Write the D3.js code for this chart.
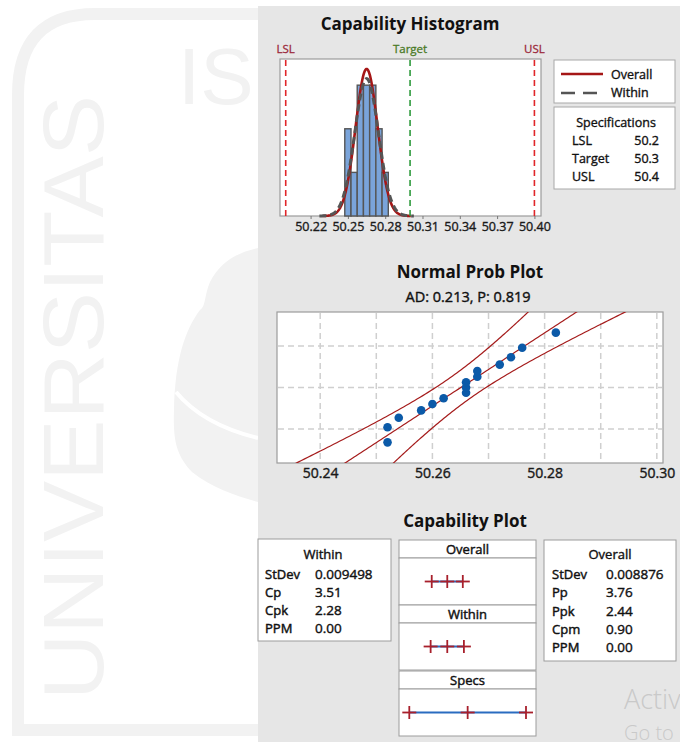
<!DOCTYPE html>
<html><head><meta charset="utf-8">
<script src="https://cdn.jsdelivr.net/npm/d3@7"></script>
<style>
html,body{margin:0;padding:0;background:#fff;}
svg text{font-family:"Open Sans","Noto Sans",sans-serif;}
</style></head>
<body><svg id="c" width="680" height="742"></svg>
<script>
// ---------------- data ----------------
const observations = [50.252, 50.252, 50.254, 50.258, 50.260, 50.262, 50.266, 50.266, 50.266,
                      50.268, 50.268, 50.272, 50.274, 50.276, 50.282];
const binEdges = [50.2475, 50.2525, 50.2575, 50.2625, 50.2675, 50.2725, 50.2775, 50.2825];
const histTicks = [50.22, 50.25, 50.28, 50.31, 50.34, 50.37, 50.40];
const probTicks = [50.24, 50.26, 50.28, 50.30];
const probGridX = [50.24, 50.25, 50.26, 50.27, 50.28, 50.29, 50.30];
const probGridPct = [0.10, 0.50, 0.90];
const specNames = ["LSL", "Target", "USL"];
const specValues = [50.2, 50.3, 50.4];
const withinSD = 0.009498;
const overallSD = 0.008876;
const withinLabels = ["StDev", "Cp", "Cpk", "PPM"];
const withinValues = ["0.009498", "3.51", "2.28", "0.00"];
const overallLabels = ["StDev", "Pp", "Ppk", "Cpm", "PPM"];
const overallValues = ["0.008876", "3.76", "2.44", "0.90", "0.00"];
const adText = "AD: 0.213, P: 0.819";

// ---------------- helpers ----------------
function invNorm(p){ // Acklam
  const a=[-3.969683028665376e+01,2.209460984245205e+02,-2.759285104469687e+02,1.383577518672690e+02,-3.066479806614716e+01,2.506628277459239e+00];
  const b=[-5.447609879822406e+01,1.615858368580409e+02,-1.556989798598866e+02,6.680131188771972e+01,-1.328068155288572e+01];
  const c=[-7.784894002430293e-03,-3.223964580411365e-01,-2.400758277161838e+00,-2.549732539343734e+00,4.374664141464968e+00,2.938163982698783e+00];
  const d=[7.784695709041462e-03,3.224671290700398e-01,2.445134137142996e+00,3.754408661907416e+00];
  const pl=0.02425;let q,r;
  if(p<pl){q=Math.sqrt(-2*Math.log(p));return (((((c[0]*q+c[1])*q+c[2])*q+c[3])*q+c[4])*q+c[5])/((((d[0]*q+d[1])*q+d[2])*q+d[3])*q+1);}
  if(p>1-pl){q=Math.sqrt(-2*Math.log(1-p));return -(((((c[0]*q+c[1])*q+c[2])*q+c[3])*q+c[4])*q+c[5])/((((d[0]*q+d[1])*q+d[2])*q+d[3])*q+1);}
  q=p-0.5;r=q*q;return (((((a[0]*r+a[1])*r+a[2])*r+a[3])*r+a[4])*r+a[5])*q/(((((b[0]*r+b[1])*r+b[2])*r+b[3])*r+b[4])*r+1);
}
const pdf=(x,m,s)=>Math.exp(-0.5*((x-m)/s)**2)/(s*Math.sqrt(2*Math.PI));

const svg = d3.select("#c");
const n = observations.length;
const mean = d3.mean(observations);

// ---------------- background + watermark ----------------
svg.append("rect").attr("width",680).attr("height",742).attr("fill","#fff");
const wm = svg.append("g").attr("fill","#f2f2f2").attr("stroke","none");
wm.append("path").attr("d","M258,14 L95,14 Q18,14 18,95 L18,730 L258,730")
  .attr("fill","none").attr("stroke","#f2f2f2").attr("stroke-width",12);
wm.append("text").attr("transform","translate(103,700) rotate(-90)")
  .attr("font-size",86).attr("textLength",605).attr("lengthAdjust","spacingAndGlyphs")
  .style("font-family","Liberation Sans, Arial, sans-serif").text("UNIVERSITAS");
wm.append("text").attr("x",178).attr("y",104).attr("font-size",80)
  .style("font-family","Liberation Sans, Arial, sans-serif").text("IS");
wm.append("path").attr("d","M258,248 C238,252 220,262 210,282 C204,296 206,306 200,310 C185,330 175,360 174,410 C173,440 176,455 192,472 C212,488 236,496 258,502 Z");
wm.append("path").attr("d","M176,392 C195,415 225,430 258,438").attr("fill","none").attr("stroke","#fff").attr("stroke-width",4);

// ---------------- panel ----------------
svg.append("rect").attr("x",258).attr("y",6).attr("width",422).attr("height",736).attr("fill","#e6e6e6");

const txt = (x,y,s,opts={})=>{
  const fill = opts.fill||"#111";
  const t=svg.append("text").attr("x",x).attr("y",y).text(s)
    .attr("font-size",opts.size||13).attr("fill",fill)
    .attr("font-weight",opts.weight||"normal").attr("text-anchor",opts.anchor||"start");
  if(opts.semi){t.attr("stroke",fill).attr("stroke-width",opts.semi);}
  return t;
};

// ---------------- Capability Histogram ----------------
txt(410,30,"Capability Histogram",{size:17,weight:"bold",anchor:"middle"});
const hx = d3.scaleLinear().domain([50.1954,50.4053]).range([280,541]);
const hy = d3.scaleLinear().domain([0,3.6]).range([216,59]);
svg.append("rect").attr("x",280).attr("y",59).attr("width",261).attr("height",157)
  .attr("fill","#fff").attr("stroke","#9c9c9c").attr("stroke-width",1.2);
const hAxis = svg.append("g").attr("transform","translate(0,216)")
  .call(d3.axisBottom(hx).tickValues(histTicks).tickFormat(d3.format(".2f")).tickSize(3).tickPadding(3));
hAxis.select(".domain").remove();
hAxis.selectAll("line").attr("stroke","#777");
hAxis.selectAll("text").attr("font-size",12.5).attr("fill","#1a1a1a").attr("stroke","#1a1a1a").attr("stroke-width",0.35)
  .style("font-family","Open Sans, sans-serif");

const bins = d3.bin().domain([binEdges[0],binEdges[binEdges.length-1]]).thresholds(binEdges.slice(1,-1))(observations);
svg.append("g").selectAll("rect").data(bins).join("rect")
  .attr("x",d=>hx(d.x0)).attr("width",d=>hx(d.x1)-hx(d.x0))
  .attr("y",d=>hy(d.length)).attr("height",d=>hy(0)-hy(d.length))
  .attr("fill","#7aa4da").attr("stroke","#555").attr("stroke-width",1.4);

const bw = binEdges[1]-binEdges[0];
const curve = (sd)=>d3.range(mean-4*sd, mean+4*sd, sd/40).map(x=>[x, n*bw*pdf(x,mean,sd)]);
const hline = d3.line().x(d=>hx(d[0])).y(d=>hy(d[1]));
svg.append("path").attr("d",hline(curve(overallSD))).attr("fill","none")
  .attr("stroke","#a51616").attr("stroke-width",2.6);
svg.append("path").attr("d",hline(curve(withinSD))).attr("fill","none")
  .attr("stroke","#555").attr("stroke-width",3).attr("stroke-dasharray","7,4");

// spec lines
const specColors = ["#e0262a","#2e9a3c","#e0262a"];
const specLabelColors = ["#9c2a3c","#4a7a26","#9c2a3c"];
specValues.forEach((v,i)=>{
  svg.append("line").attr("x1",hx(v)).attr("x2",hx(v)).attr("y1",60).attr("y2",216)
    .attr("stroke",specColors[i]).attr("stroke-width",1.6).attr("stroke-dasharray","6,4");
  txt(hx(v),53,specNames[i],{size:11.5,fill:specLabelColors[i],anchor:"middle",semi:0.3});
});

// legend
svg.append("rect").attr("x",554).attr("y",60).attr("width",121).attr("height",43).attr("fill","#fff").attr("stroke","#a8a8a8");
svg.append("line").attr("x1",561).attr("x2",603).attr("y1",74).attr("y2",74).attr("stroke","#a51616").attr("stroke-width",2.6);
svg.append("line").attr("x1",561).attr("x2",603).attr("y1",93).attr("y2",93).attr("stroke","#555").attr("stroke-width",2.6).attr("stroke-dasharray","14,8");
txt(611,78.5,"Overall",{size:12.5,semi:0.35});
txt(611,97,"Within",{size:12.5,semi:0.35});
svg.append("rect").attr("x",554).attr("y",107).attr("width",121).attr("height",82).attr("fill","#fff").attr("stroke","#a8a8a8");
txt(616,126.5,"Specifications",{size:12.5,semi:0.35,anchor:"middle"});
specNames.forEach((s,i)=>{
  txt(572,144.5+i*18.3,s,{size:12.5,semi:0.35});
  txt(659,144.5+i*18.3,String(specValues[i]),{size:12.5,semi:0.35,anchor:"end"});
});

// ---------------- Normal Prob Plot ----------------
txt(470,278,"Normal Prob Plot",{size:17,weight:"bold",anchor:"middle"});
txt(468,301.5,adText,{size:14.5,semi:0.4,anchor:"middle"});
const px = d3.scaleLinear().domain([50.2323,50.3011]).range([277,663]);
const py = d3.scaleLinear().domain([invNorm(0.01),invNorm(0.99)]).range([463,312]);
svg.append("rect").attr("x",277).attr("y",312).attr("width",386).attr("height",151)
  .attr("fill","#fff").attr("stroke","#9c9c9c").attr("stroke-width",1.2);
const grid = svg.append("g").attr("stroke","#cfcfcf").attr("stroke-width",1.5).attr("stroke-dasharray","6,4");
probGridX.forEach(v=>grid.append("line").attr("x1",px(v)).attr("x2",px(v)).attr("y1",313).attr("y2",462));
probGridPct.forEach(p=>grid.append("line").attr("x1",278).attr("x2",662).attr("y1",py(invNorm(p))).attr("y2",py(invNorm(p))));
const pAxis = svg.append("g").attr("transform","translate(0,463)")
  .call(d3.axisBottom(px).tickValues(probTicks).tickFormat(d3.format(".2f")).tickSize(0).tickPadding(5));
pAxis.select(".domain").remove();
pAxis.selectAll("text").attr("font-size",14).attr("fill","#1a1a1a").attr("stroke","#1a1a1a").attr("stroke-width",0.4)
  .style("font-family","Open Sans, sans-serif");

svg.append("clipPath").attr("id","pclip").append("rect").attr("x",277).attr("y",312).attr("width",386).attr("height",151);
const zs = d3.range(-2.6,2.61,0.05);
const half = z=>1.96*overallSD/Math.sqrt(n)*Math.sqrt(1+z*z/2);
const pline = d3.line().x(d=>px(d[0])).y(d=>py(d[1]));
const pg = svg.append("g").attr("clip-path","url(#pclip)").attr("fill","none").attr("stroke","#a51c1c").attr("stroke-width",1.2);
pg.append("path").attr("d",pline(zs.map(z=>[mean+z*overallSD,z])));
pg.append("path").attr("d",pline(zs.map(z=>[mean+z*overallSD-half(z),z])));
pg.append("path").attr("d",pline(zs.map(z=>[mean+z*overallSD+half(z),z])));
const sorted = observations.slice().sort(d3.ascending);
svg.append("g").selectAll("circle").data(sorted).join("circle")
  .attr("cx",d=>px(d)).attr("cy",(d,i)=>py(invNorm((i+1-0.3)/(n+0.4)))).attr("r",4.3)
  .attr("fill","#0b5aa8");

// ---------------- Capability Plot ----------------
txt(465,526.5,"Capability Plot",{size:17,weight:"bold",anchor:"middle"});
// within table
svg.append("rect").attr("x",258).attr("y",539).attr("width",133).attr("height",102).attr("fill","#fff").attr("stroke","#9c9c9c");
txt(323,559.3,"Within",{size:13,semi:0.4,anchor:"middle"});
withinLabels.forEach((l,i)=>{txt(265,579+i*18.1,l,{size:13,semi:0.45});txt(315,579+i*18.1,withinValues[i],{size:13.5,semi:0.4});});
// overall table
svg.append("rect").attr("x",544).attr("y",540).attr("width",132).attr("height",121).attr("fill","#fff").attr("stroke","#9c9c9c");
txt(610,559.3,"Overall",{size:13,semi:0.4,anchor:"middle"});
overallLabels.forEach((l,i)=>{txt(552,579+i*18.3,l,{size:13,semi:0.45});txt(606,579+i*18.3,overallValues[i],{size:13.5,semi:0.4});});
// middle panels
const cx = d3.scaleLinear().domain([specValues[0],specValues[2]]).range([409.3,526]);
const panels = [
  {title:"Overall", top:540, pts:[mean-3*overallSD,mean,mean+3*overallSD]},
  {title:"Within", top:605, pts:[mean-3*withinSD,mean,mean+3*withinSD]},
  {title:"Specs", top:671, pts:specValues}
];
panels.forEach(p=>{
  svg.append("rect").attr("x",399).attr("y",p.top).attr("width",137).attr("height",18).attr("fill","#fff").attr("stroke","#9c9c9c");
  svg.append("rect").attr("x",399).attr("y",p.top+18).attr("width",137).attr("height",47).attr("fill","#fff").attr("stroke","#9c9c9c");
  txt(467.5,p.top+14.3,p.title,{size:13,semi:0.45,anchor:"middle"});
  const yc = p.top+18+23.5;
  svg.append("line").attr("x1",cx(p.pts[0])).attr("x2",cx(p.pts[2])).attr("y1",yc).attr("y2",yc).attr("stroke","#2a6cc0").attr("stroke-width",2);
  p.pts.forEach(v=>{
    svg.append("line").attr("x1",cx(v)-7).attr("x2",cx(v)+7).attr("y1",yc).attr("y2",yc).attr("stroke","#a8202c").attr("stroke-width",1.8);
    svg.append("line").attr("x1",cx(v)).attr("x2",cx(v)).attr("y1",yc-6.5).attr("y2",yc+6.5).attr("stroke","#a8202c").attr("stroke-width",1.8);
  });
});

// OS watermark text (clipped by the window edge as in the reference)
txt(624,709,"Activ",{size:27,fill:"#c9c9c9",weight:300});
txt(624,740,"Go to",{size:20,fill:"#c9c9c9",weight:300});
</script></body></html>
